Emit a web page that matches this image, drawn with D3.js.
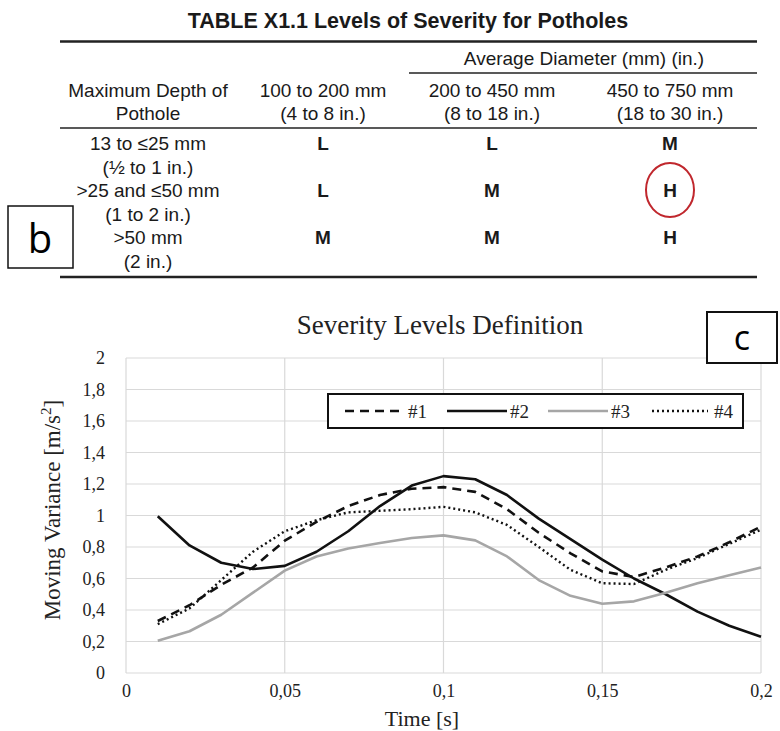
<!DOCTYPE html>
<html>
<head>
<meta charset="utf-8">
<script src="https://cdn.jsdelivr.net/npm/d3@7"></script>
<style>
  body { margin: 0; background: #fff; }
  svg { display: block; }
</style>
</head>
<body>
<div id="chart"></div>
<script>
// Table data
const tableTitle = "TABLE X1.1 Levels of Severity for Potholes";
const groupHeader = "Average Diameter (mm) (in.)";
const colHeaders = [
  ["Maximum Depth of", "Pothole"],
  ["100 to 200 mm", "(4 to 8 in.)"],
  ["200 to 450 mm", "(8 to 18 in.)"],
  ["450 to 750 mm", "(18 to 30 in.)"]
];
const rowLabels = [
  ["13 to \u226425 mm", "(\u00bd to 1 in.)"],
  [">25 and \u226450 mm", "(1 to 2 in.)"],
  [">50 mm", "(2 in.)"]
];
const levels = [
  ["L", "L", "M"],
  ["L", "M", "H"],
  ["M", "M", "H"]
];

// Chart data
const time = [0.01, 0.02, 0.03, 0.04, 0.05, 0.06, 0.07, 0.08, 0.09, 0.1,
  0.11, 0.12, 0.13, 0.14, 0.15, 0.16, 0.17, 0.18, 0.19, 0.2];
const s1 = [0.33, 0.43, 0.56, 0.67, 0.84, 0.96, 1.06, 1.13, 1.17, 1.18,
  1.15, 1.04, 0.89, 0.76, 0.645, 0.61, 0.67, 0.74, 0.83, 0.93];
const s2 = [0.995, 0.81, 0.70, 0.66, 0.68, 0.77, 0.90, 1.06, 1.19, 1.25,
  1.23, 1.13, 0.98, 0.85, 0.72, 0.60, 0.50, 0.39, 0.30, 0.23];
const s3 = [0.205, 0.265, 0.37, 0.51, 0.65, 0.74, 0.79, 0.825, 0.857, 0.874,
  0.842, 0.74, 0.59, 0.49, 0.44, 0.455, 0.51, 0.57, 0.62, 0.67];
const s4 = [0.31, 0.41, 0.59, 0.77, 0.90, 0.97, 1.02, 1.03, 1.04, 1.055,
  1.02, 0.94, 0.80, 0.655, 0.57, 0.565, 0.655, 0.73, 0.82, 0.91];
const seriesNames = ["#1", "#2", "#3", "#4"];
const xTicks = [0, 0.05, 0.1, 0.15, 0.2];
const yTicks = [0, 0.2, 0.4, 0.6, 0.8, 1, 1.2, 1.4, 1.6, 1.8, 2];

const width = 780;
const height = 731;

const svg = d3.select("#chart").append("svg")
  .attr("width", width)
  .attr("height", height);

// ---------- Table (b) ----------
const sans = "'Liberation Sans', Arial, sans-serif";
const tbl = svg.append("g").attr("font-family", sans).attr("fill", "#1a1a1a");
const colX = [148, 323, 492, 670];
const tLeft = 60, tRight = 757;
const fs = 19;

tbl.append("text")
  .attr("x", 408).attr("y", 28)
  .attr("text-anchor", "middle")
  .attr("font-weight", "bold")
  .attr("font-size", 21.5)
  .text(tableTitle);

const rule = (x1, x2, y, w) => tbl.append("line")
  .attr("x1", x1).attr("x2", x2).attr("y1", y).attr("y2", y)
  .attr("stroke", "#222").attr("stroke-width", w);
rule(tLeft, tRight, 41.5, 2.5);
rule(409, tRight, 73, 1.5);
rule(tLeft, tRight, 128, 1.5);
rule(tLeft, tRight, 277, 2.5);

tbl.append("text")
  .attr("x", 584).attr("y", 65)
  .attr("text-anchor", "middle")
  .attr("font-size", fs)
  .text(groupHeader);

colHeaders.forEach((lines, i) => {
  lines.forEach((t, j) => {
    tbl.append("text")
      .attr("x", colX[i]).attr("y", 97 + j * 23)
      .attr("text-anchor", "middle")
      .attr("font-size", fs)
      .text(t);
  });
});

const rowY = [150, 197, 244];
rowLabels.forEach((lines, r) => {
  lines.forEach((t, j) => {
    tbl.append("text")
      .attr("x", colX[0]).attr("y", rowY[r] + j * 24)
      .attr("text-anchor", "middle")
      .attr("font-size", fs)
      .text(t);
  });
  levels[r].forEach((v, c) => {
    tbl.append("text")
      .attr("x", colX[c + 1]).attr("y", rowY[r])
      .attr("text-anchor", "middle")
      .attr("font-size", fs)
      .attr("font-weight", "bold")
      .text(v);
  });
});

// red circle around the highlighted H
tbl.append("ellipse")
  .attr("cx", colX[3]).attr("cy", 190)
  .attr("rx", 24).attr("ry", 27)
  .attr("fill", "none")
  .attr("stroke", "#c0272d")
  .attr("stroke-width", 2);

// label box b
svg.append("rect")
  .attr("x", 8).attr("y", 206).attr("width", 65).attr("height", 62)
  .attr("fill", "#fff").attr("stroke", "#111").attr("stroke-width", 1.5);
svg.append("text")
  .attr("x", 40).attr("y", 253)
  .attr("text-anchor", "middle")
  .attr("font-family", "'Open Sans', 'DejaVu Sans', sans-serif")
  .attr("font-size", 40)
  .text("b");

// ---------- Chart (c) ----------
const serif = "'Liberation Serif', 'Times New Roman', serif";
const x = d3.scaleLinear().domain([0, 0.2]).range([126, 761]);
const y = d3.scaleLinear().domain([0, 2]).range([673, 358]);
const fmt = (d) => String(d).replace(".", ",");

const chart = svg.append("g").attr("font-family", serif);

// grid
chart.append("g")
  .selectAll("line")
  .data(yTicks)
  .join("line")
  .attr("x1", x(0)).attr("x2", x(0.2))
  .attr("y1", (d) => y(d)).attr("y2", (d) => y(d))
  .attr("stroke", "#d9d9d9").attr("stroke-width", 1.2);
chart.append("g")
  .selectAll("line")
  .data(xTicks)
  .join("line")
  .attr("y1", y(0)).attr("y2", y(2))
  .attr("x1", (d) => x(d)).attr("x2", (d) => x(d))
  .attr("stroke", "#d9d9d9").attr("stroke-width", 1.2);

// axes (labels only, grid is drawn above)
const yAxis = chart.append("g")
  .attr("transform", `translate(${x(0) - 18},0)`)
  .call(d3.axisLeft(y).tickValues(yTicks).tickFormat(fmt).tickSize(0));
yAxis.select(".domain").remove();
yAxis.selectAll("text")
  .attr("font-family", serif).attr("font-size", 18).attr("fill", "#222");

const xAxis = chart.append("g")
  .attr("transform", `translate(0,${y(0) + 8})`)
  .call(d3.axisBottom(x).tickValues(xTicks).tickFormat(fmt).tickSize(0));
xAxis.select(".domain").remove();
xAxis.selectAll("text")
  .attr("font-family", serif).attr("font-size", 18).attr("fill", "#222");

// titles
chart.append("text")
  .attr("x", 440).attr("y", 334)
  .attr("text-anchor", "middle")
  .attr("font-size", 27).attr("fill", "#222")
  .text("Severity Levels Definition");

chart.append("text")
  .attr("x", 422).attr("y", 726)
  .attr("text-anchor", "middle")
  .attr("font-size", 22).attr("fill", "#222")
  .text("Time [s]");

const yt = chart.append("text")
  .attr("transform", "translate(60,510) rotate(-90)")
  .attr("text-anchor", "middle")
  .attr("font-size", 23).attr("fill", "#222");
yt.append("tspan").text("Moving Variance [m/s");
yt.append("tspan").attr("font-size", 15).attr("dy", -9).text("2");
yt.append("tspan").attr("dy", 9).text("]");

// lines
const series = [
  { name: seriesNames[0], values: s1, color: "#111", width: 2.6, dash: "9,6" },
  { name: seriesNames[1], values: s2, color: "#111", width: 2.6, dash: null },
  { name: seriesNames[2], values: s3, color: "#a6a6a6", width: 2.6, dash: null },
  { name: seriesNames[3], values: s4, color: "#111", width: 2.4, dash: "2,3" }
];
const line = d3.line()
  .x((d, i) => x(time[i]))
  .y((d) => y(d));

chart.append("g")
  .selectAll("path")
  .data(series)
  .join("path")
  .attr("d", (d) => line(d.values))
  .attr("fill", "none")
  .attr("stroke", (d) => d.color)
  .attr("stroke-width", (d) => d.width)
  .attr("stroke-dasharray", (d) => d.dash)
  .attr("stroke-linejoin", "round");

// legend
const legend = chart.append("g");
legend.append("rect")
  .attr("x", 328).attr("y", 394).attr("width", 415).attr("height", 34)
  .attr("fill", "#fff").attr("stroke", "#111").attr("stroke-width", 2);
const legX = [345, 447, 548, 652];
series.forEach((s, i) => {
  legend.append("line")
    .attr("x1", legX[i]).attr("x2", legX[i] + (i === 3 ? 56 : 60))
    .attr("y1", 411).attr("y2", 411)
    .attr("stroke", s.color)
    .attr("stroke-width", s.width)
    .attr("stroke-dasharray", s.dash);
  legend.append("text")
    .attr("x", legX[i] + (i === 3 ? 62 : 63)).attr("y", 418)
    .attr("font-size", 19).attr("fill", "#222")
    .text(s.name);
});

// label box c
svg.append("rect")
  .attr("x", 707).attr("y", 312).attr("width", 70).attr("height", 51)
  .attr("fill", "#fff").attr("stroke", "#111").attr("stroke-width", 2);
svg.append("text")
  .attr("x", 742).attr("y", 350)
  .attr("text-anchor", "middle")
  .attr("font-family", "'Open Sans', 'DejaVu Sans', sans-serif")
  .attr("font-size", 34)
  .text("c");
</script>
</body>
</html>
